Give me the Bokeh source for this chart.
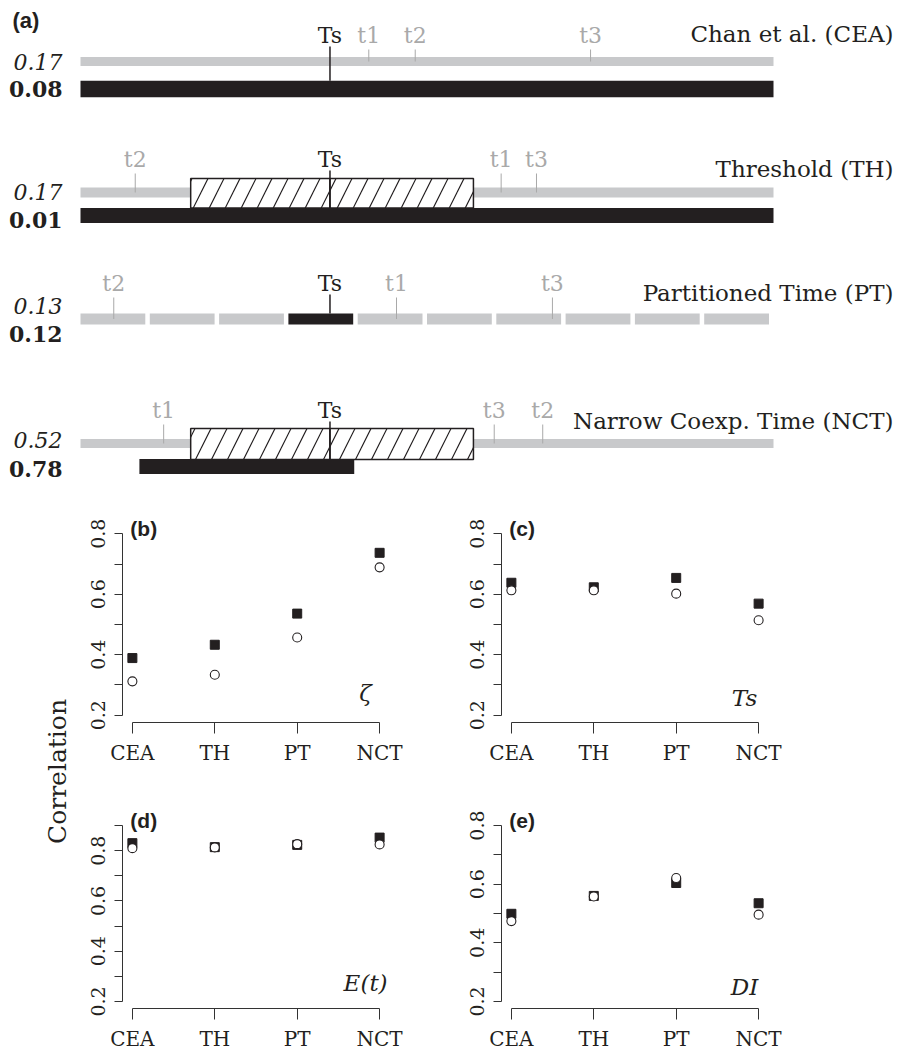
import numpy as np
from bokeh.plotting import figure
from bokeh.models import Range1d, FixedTicker, ColumnDataSource
from bokeh.layouts import column, row
from bokeh.embed import file_html
from bokeh.resources import INLINE
from bokeh.core.properties import value

# ---------------- Panel (a) data ----------------
methods = ["CEA", "TH", "PT", "NCT"]
method_titles = ["Chan et al. (CEA)", "Threshold (TH)", "Partitioned Time (PT)", "Narrow Coexp. Time (NCT)"]
corr_fine = ["0.17", "0.17", "0.13", "0.52"]      # italic values
corr_coarse = ["0.08", "0.01", "0.12", "0.78"]    # bold values
ts_time = 36.0
timeline_start = 0.0
timeline_end = 100.0
t_names = ["t1", "t2", "t3"]
t1_times = [41.6, 60.7, 45.6, 12.0]
t2_times = [48.3, 7.9, 4.8, 66.7]
t3_times = [73.6, 65.8, 68.1, 59.7]
window_start = 15.9          # TH / NCT coexpression window
window_end = 56.7
nct_black_start = 8.5
nct_black_end = 39.5
pt_edges = [0, 10, 20, 30, 40, 50, 60, 70, 80, 90, 100]
pt_ts_bin = 3

# ---------------- Panels (b)-(e) data ----------------
cats = ["CEA", "TH", "PT", "NCT"]
zeta_sq = [0.389, 0.433, 0.536, 0.737]
zeta_ci = [0.312, 0.334, 0.457, 0.689]
ts_sq = [0.638, 0.623, 0.654, 0.569]
ts_ci = [0.613, 0.613, 0.602, 0.514]
et_sq = [0.830, 0.814, 0.823, 0.852]
et_ci = [0.810, 0.813, 0.826, 0.825]
di_sq = [0.499, 0.560, 0.604, 0.535]
di_ci = [0.474, 0.558, 0.621, 0.496]

SERIF = "DejaVu Serif"
SANS = "Liberation Sans"
GRAY = "#c8c9cb"
TGRAY = "#a9a9a9"
BLACK = "#231f20"

# ---------------- Panel (a) figure ----------------
PXU = 6.93  # pixels per time unit
fa = figure(width=898, height=490, output_backend="svg", toolbar_location=None,
            x_range=Range1d(-80 / PXU, (898 - 80) / PXU), y_range=Range1d(490, 0),
            min_border=0)
fa.axis.visible = False
fa.grid.visible = False
fa.outline_line_color = None

gray_y = [61, 192, 318.5, 443]
black_y = [88.5, 215, 318.5, 466]
black_h = [16.5, 15, 11, 15]
gray_h = [9, 10, 11, 9]
lab_y = [35, 159, 283, 410]
box_top = [None, 178, None, 428]
box_bot = [None, 207.5, None, 459]
val_y1 = [61, 191, 305, 439]
val_y2 = [88, 219, 333, 468]
title_y = [33, 168, 292, 420]

hatch_kw = dict(fill_color="white", line_color=BLACK, line_width=1.5,
                hatch_pattern="/", hatch_color=BLACK, hatch_scale=32, hatch_weight=1.2)

# Row 1: CEA
fa.hbar(y=[gray_y[0]], left=[timeline_start], right=[timeline_end], height=gray_h[0],
        fill_color=GRAY, line_color=None)
fa.hbar(y=[black_y[0]], left=[timeline_start], right=[timeline_end], height=black_h[0],
        fill_color=BLACK, line_color=None)
# Row 2: TH
fa.hbar(y=[gray_y[1], gray_y[1]], left=[timeline_start, window_end], right=[window_start, timeline_end],
        height=gray_h[1], fill_color=GRAY, line_color=None)
fa.quad(left=[window_start, ts_time], right=[ts_time, window_end], top=[box_top[1]] * 2,
        bottom=[box_bot[1]] * 2, **hatch_kw)
fa.hbar(y=[black_y[1]], left=[timeline_start], right=[timeline_end], height=black_h[1],
        fill_color=BLACK, line_color=None)
# Row 3: PT
gap = 0.65
lefts = [pt_edges[i] for i in range(len(pt_edges) - 1)]
rights = [pt_edges[i + 1] - gap for i in range(len(pt_edges) - 1)]
cols = [BLACK if i == pt_ts_bin else GRAY for i in range(len(lefts))]
fa.hbar(y=[gray_y[2]] * len(lefts), left=lefts, right=rights, height=gray_h[2],
        fill_color=cols, line_color=None)
# Row 4: NCT
fa.hbar(y=[gray_y[3], gray_y[3]], left=[timeline_start, window_end], right=[window_start, timeline_end],
        height=gray_h[3], fill_color=GRAY, line_color=None)
fa.quad(left=[window_start, ts_time], right=[ts_time, window_end], top=[box_top[3]] * 2,
        bottom=[box_bot[3]] * 2, **hatch_kw)
fa.hbar(y=[black_y[3]], left=[nct_black_start], right=[nct_black_end], height=black_h[3],
        fill_color=BLACK, line_color=None)

# t ticks and labels
for r in range(4):
    ts_list = [t1_times[r], t2_times[r], t3_times[r]]
    fa.segment(x0=ts_list, x1=ts_list, y0=[lab_y[r] + 14] * 3, y1=[gray_y[r]] * 3,
               line_color=TGRAY, line_width=1)
    fa.text(x=ts_list, y=[lab_y[r]] * 3, text=t_names, text_align="center", text_baseline="middle",
            text_font=value(SERIF), text_font_size="22px", text_color=TGRAY)
    # Ts
    fa.segment(x0=[ts_time], x1=[ts_time], y0=[lab_y[r] + 11],
               y1=[black_y[r] - black_h[r] / 2], line_color=BLACK, line_width=1.5)
    fa.text(x=[ts_time], y=[lab_y[r]], text=["Ts"], text_align="center", text_baseline="middle",
            text_font=value(SERIF), text_font_size="22px", text_color=BLACK)
    # titles
    fa.text(x=[(893 - 80) / PXU], y=[title_y[r]], text=[method_titles[r]], text_align="right",
            text_baseline="middle", text_font=value(SERIF), text_font_size="23px", text_color=BLACK)
    # correlation values
    fa.text(x=[-18 / PXU], y=[val_y1[r]], text=[corr_fine[r]], text_align="right",
            text_baseline="middle", text_font=value(SERIF), text_font_size="22px",
            text_font_style="italic", text_color=BLACK)
    fa.text(x=[-18 / PXU], y=[val_y2[r]], text=[corr_coarse[r]], text_align="right",
            text_baseline="middle", text_font=value(SERIF), text_font_size="22px",
            text_font_style="bold", text_color=BLACK)

fa.text(x=[-68 / PXU], y=[20], text=["(a)"], text_align="left", text_baseline="middle",
        text_font=value(SANS), text_font_size="22px", text_font_style="bold", text_color=BLACK)


# ---------------- Panels (b)-(e) ----------------
def make_panel(width, bl, br, height, bb, ymax, sq, ci, tag, var_label, var_y):
    # R-style 4% padding below; frame extended upward (axis bounded) to hold the panel tag
    ylo = 0.2 - 0.04 * (ymax - 0.2)
    region = 196 if height == 280 else 195
    scale = region / (ymax - ylo + 0.04 * (ymax - 0.2))
    frame_h = height - 10 - bb
    yhi = ylo + frame_h / scale
    p = figure(width=width, height=height, output_backend="svg", toolbar_location=None,
               x_range=Range1d(0.88, 4.12), y_range=Range1d(ylo, yhi),
               min_border_left=bl, min_border_right=br, min_border_top=10, min_border_bottom=bb)
    p.grid.visible = False
    p.outline_line_color = None
    xs = [1, 2, 3, 4]
    p.scatter(xs, sq, marker="square", size=9, fill_color=BLACK, line_color=BLACK)
    p.scatter(xs, ci, marker="circle", size=9, fill_color="white", line_color=BLACK, line_width=1.1)

    xa = p.xaxis[0]
    xa.ticker = FixedTicker(ticks=xs)
    xa.major_label_overrides = {i + 1: c for i, c in enumerate(cats)}
    xa.bounds = (1, 4)
    xa.major_tick_in = 0
    xa.major_tick_out = 11
    xa.minor_tick_line_color = None
    xa.axis_line_color = "#333333"
    xa.major_tick_line_color = "#333333"
    xa.major_label_text_font = SERIF
    xa.major_label_text_font_size = "20px"
    xa.major_label_text_color = BLACK
    xa.major_label_standoff = 7

    ya = p.yaxis[0]
    minors = [0.3, 0.5, 0.7] + ([0.9] if ymax > 0.85 else [])
    ya.ticker = FixedTicker(ticks=[0.2, 0.4, 0.6, 0.8], minor_ticks=minors)
    ya.bounds = (0.2, ymax)
    ya.major_tick_in = 0
    ya.major_tick_out = 8
    ya.minor_tick_in = 0
    ya.minor_tick_out = 8
    ya.axis_line_color = "#333333"
    ya.major_tick_line_color = "#333333"
    ya.minor_tick_line_color = "#333333"
    ya.major_label_orientation = "vertical"
    ya.major_label_text_font = SERIF
    ya.major_label_text_font_size = "19px"
    ya.major_label_text_color = BLACK
    ya.major_label_standoff = 9

    top_val = ymax + 0.04 * (ymax - 0.2)
    p.text(x=[0.975], y=[top_val - 2 / scale], text=[tag], text_align="left", text_baseline="middle",
           text_font=value(SANS), text_font_size="21px", text_font_style="bold", text_color=BLACK)
    p.text(x=[3.83], y=[var_y], text=[var_label], text_align="center", text_baseline="middle",
           text_font=value(SERIF), text_font_size="23px", text_font_style="italic", text_color=BLACK)
    return p


fb = make_panel(378, 50, 61, 280, 48, 0.8, zeta_sq, zeta_ci, "(b)", "ζ", 0.273)
fc = make_panel(448, 51, 130, 280, 48, 0.8, ts_sq, ts_ci, "(c)", "Ts", 0.256)
fd = make_panel(378, 50, 61, 283, 39, 0.9, et_sq, et_ci, "(d)", "E(t)", 0.273)
fe = make_panel(448, 51, 130, 283, 39, 0.8, di_sq, di_ci, "(e)", "DI", 0.25)

fcorr = figure(width=72, height=563, output_backend="svg", toolbar_location=None,
               x_range=Range1d(0, 72), y_range=Range1d(563, 0), min_border=0)
fcorr.axis.visible = False
fcorr.grid.visible = False
fcorr.outline_line_color = None
fcorr.text(x=[57], y=[281], text=["Correlation"], angle=np.pi / 2, text_align="center",
           text_baseline="middle", text_font=value(SERIF), text_font_size="25px", text_color=BLACK)

layout = column(fa, row(fcorr, column(row(fb, fc), row(fd, fe))))

open("out.html", "w").write(file_html(layout, INLINE))
